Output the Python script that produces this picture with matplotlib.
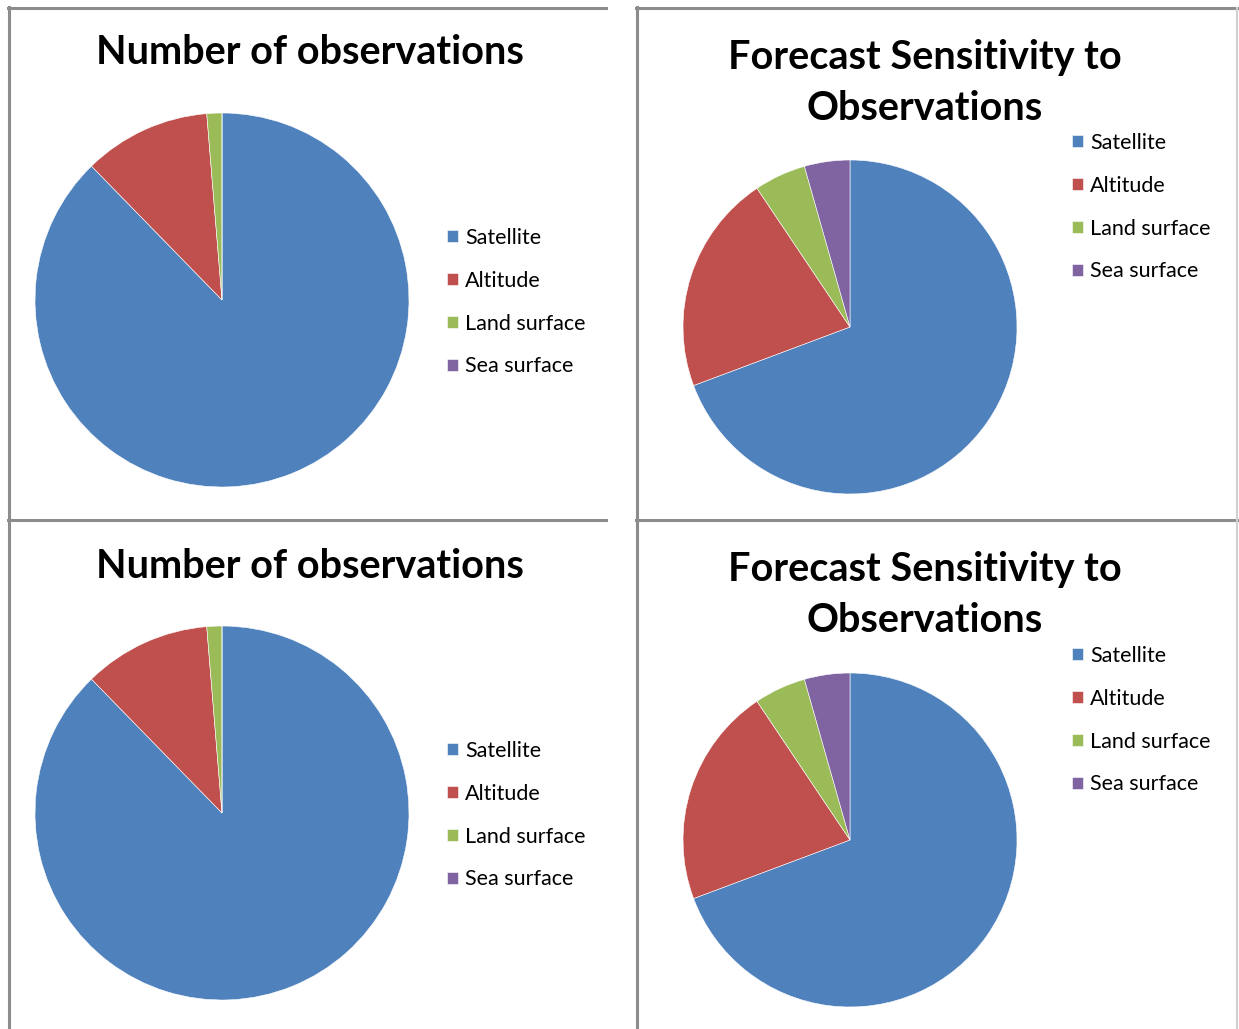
import matplotlib
matplotlib.use("Agg")
import matplotlib.pyplot as plt
from matplotlib.lines import Line2D

W, H = 1239, 1029

categories = ["Satellite", "Altitude", "Land surface", "Sea surface"]
colors = ["#4F81BD", "#C0504D", "#9BBB59", "#8064A2"]
obs_counts = [87.7, 11.0, 1.3, 0.0]
sensitivity = [69.3, 21.3, 5.0, 4.4]

plt.rcParams["font.family"] = ["Lato", "DejaVu Sans"]


def px_box(x0, y0, x1, y1):
    # pixel box (top-left origin) -> figure rect
    return [x0 / W, 1 - y1 / H, (x1 - x0) / W, (y1 - y0) / H]


def hline(fig, x0, x1, y, color="#8c8c8c", lw=2.2):
    fig.add_artist(Line2D([x0 / W, x1 / W], [1 - y / H, 1 - y / H],
                          transform=fig.transFigure, color=color, lw=lw))


def vline(fig, x, y0, y1, color="#8c8c8c", lw=2.2):
    fig.add_artist(Line2D([x / W, x / W], [1 - y0 / H, 1 - y1 / H],
                          transform=fig.transFigure, color=color, lw=lw))


def draw_panel(fig, values, title_lines, title_x, title_y0, cx, cy, r, leg_x, leg_y):
    ax = fig.add_axes(px_box(cx - r, cy - r, cx + r, cy + r))
    wedges, _ = ax.pie(values, colors=colors, startangle=90, counterclock=False,
                       wedgeprops=dict(edgecolor="white", linewidth=0.4))
    ax.set_xlim(-1, 1)
    ax.set_ylim(-1, 1)
    ax.set_aspect("equal")
    ax.axis("off")
    for i, line in enumerate(title_lines):
        fig.text(title_x / W, 1 - (title_y0 + i * 51) / H, line, ha="center", va="center",
                 fontsize=28.5, fontweight="bold", color="black")
    fig.legend(wedges, categories, loc="upper left",
               bbox_to_anchor=(leg_x / W, 1 - leg_y / H), frameon=False,
               fontsize=15.5, handlelength=0.5, handleheight=0.5, handletextpad=0.35,
               labelspacing=1.06, borderaxespad=0, borderpad=0)


fig = plt.figure(figsize=(W / 100, H / 100), dpi=100)
fig.patch.set_facecolor("white")

for dy in (0, 513):
    draw_panel(fig, obs_counts, ["Number of observations"], 310, 53 + dy,
               222, 300 + dy, 187, 447, 228 + dy)
    draw_panel(fig, sensitivity, ["Forecast Sensitivity to", "Observations"], 925, 57 + dy,
               850, 327 + dy, 167, 1072, 133 + dy)

# panel borders
hline(fig, 8, 606, 8)
hline(fig, 8, 606, 520)
vline(fig, 9, 7, 1029)
hline(fig, 636, 1239, 8)
hline(fig, 636, 1239, 520)
vline(fig, 637, 7, 1029)
vline(fig, 1237, 8, 1029, color="#d0d0d0", lw=1.5)

fig.savefig("out.png", dpi=100)
